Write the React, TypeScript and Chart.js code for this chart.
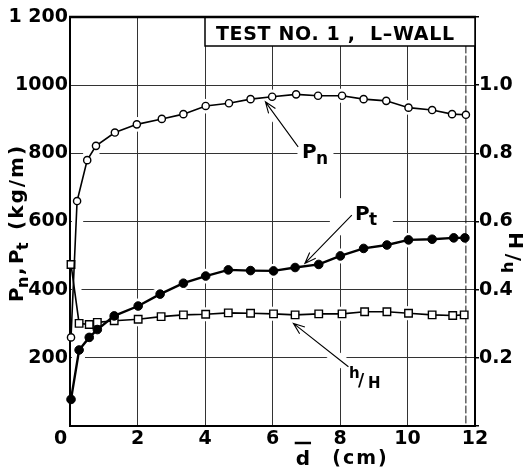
import React, { useEffect, useRef } from 'react';
import { Chart, registerables } from 'chart.js';
Chart.register(...registerables);

// ---- data ----
const dPn = [0.03, 0.21, 0.51, 0.77, 1.33, 1.98, 2.72, 3.36, 4.02, 4.71, 5.35, 5.99, 6.7, 7.35, 8.06, 8.7, 9.37, 10.03, 10.73, 11.32, 11.73];
const Pn = [260, 660, 780, 822, 861, 885, 901, 915, 939, 947, 959, 966, 973, 969, 969, 959, 954, 934, 927, 915, 913];

const dPt = [0.03, 0.27, 0.57, 0.81, 1.31, 2.02, 2.67, 3.36, 4.02, 4.69, 5.35, 6.03, 6.67, 7.37, 8.01, 8.7, 9.39, 10.03, 10.73, 11.37, 11.7];
const Pt = [78, 223, 260, 283, 323, 352, 387, 419, 440, 458, 456, 455, 465, 474, 499, 521, 531, 546, 548, 552, 552];

const dHH = [0.03, 0.27, 0.57, 0.81, 1.31, 2.02, 2.7, 3.36, 4.02, 4.69, 5.35, 6.03, 6.67, 7.37, 8.06, 8.73, 9.39, 10.03, 10.73, 11.34, 11.68];
const HH = [0.474, 0.301, 0.298, 0.304, 0.309, 0.313, 0.321, 0.326, 0.328, 0.332, 0.331, 0.329, 0.326, 0.329, 0.329, 0.335, 0.335, 0.331, 0.326, 0.324, 0.326];

const xRange = [0, 12];
const xStep = 2;
const yLeftRange = [0, 1200];
const yLeftStep = 200;
const yRightRange = [0, 1.2];
const yRightStep = 0.2;
const titleText = 'TEST NO. 1 ,  L–WALL';
const lastRunD = 11.73;

const FAM = "'DejaVu Sans', 'Liberation Sans', sans-serif";
const font = (size: number) => `bold ${size}px ${FAM}`;

function txt(ctx: CanvasRenderingContext2D, s: string, x: number, y: number, size: number, spacing = 0) {
  ctx.font = font(size);
  (ctx as any).letterSpacing = spacing + 'px';
  ctx.textAlign = 'left';
  ctx.textBaseline = 'alphabetic';
  ctx.fillStyle = '#000';
  ctx.fillText(s, x, y);
  (ctx as any).letterSpacing = '0px';
}

type Ann = { tip: [number, number]; tail: [number, number] };
const arrows: Ann[] = [
  { tip: [5.79, 951], tail: [6.76, 819] },
  { tip: [6.96, 477], tail: [8.35, 619] },
  { tip: [6.62, 301], tail: [8.25, 174] },
];

const decor = {
  id: 'decor',
  beforeDatasetsDraw(chart: any) {
    const { ctx, chartArea: a, scales } = chart;
    const X = (v: number) => scales.x.getPixelForValue(v);
    const Y = (v: number) => scales.y.getPixelForValue(v);
    ctx.save();
    ctx.beginPath();
    ctx.rect(a.left + 2, a.top + 2, a.right - a.left - 4, a.bottom - a.top - 4);
    ctx.clip();
    ctx.strokeStyle = '#fff';
    ctx.lineJoin = 'round';
    ctx.lineCap = 'round';
    ctx.lineWidth = 14;
    chart.data.datasets.forEach((_: any, i: number) => {
      const meta = chart.getDatasetMeta(i);
      ctx.beginPath();
      meta.data.forEach((p: any, j: number) => (j ? ctx.lineTo(p.x, p.y) : ctx.moveTo(p.x, p.y)));
      ctx.stroke();
    });
    ctx.lineWidth = 12;
    arrows.forEach((ar) => {
      ctx.beginPath();
      ctx.moveTo(X(ar.tip[0]), Y(ar.tip[1]));
      ctx.lineTo(X(ar.tail[0]), Y(ar.tail[1]));
      ctx.stroke();
    });
    // label backgrounds
    ctx.fillStyle = '#fff';
    const lx = (v: number) => X(v);
    ctx.fillRect(lx(6.74), Y(786) - 18, 36, 27);
    ctx.fillRect(lx(7.7), Y(604) - 22, 63, 30);
    ctx.fillRect(lx(8.1), Y(111) - 26, 42, 31);
    // dashed line at the last run
    ctx.strokeStyle = '#111';
    ctx.lineWidth = 1;
    ctx.setLineDash([7, 3]);
    ctx.beginPath();
    ctx.moveTo(X(lastRunD), a.top + 29);
    ctx.lineTo(X(lastRunD), a.bottom);
    ctx.stroke();
    ctx.setLineDash([]);
    ctx.restore();
  },
  afterDatasetsDraw(chart: any) {
    const { ctx, chartArea: a, scales } = chart;
    const X = (v: number) => scales.x.getPixelForValue(v);
    const Y = (v: number) => scales.y.getPixelForValue(v);
    ctx.save();
    // arrows
    ctx.strokeStyle = '#000';
    ctx.lineWidth = 1.1;
    arrows.forEach((ar) => {
      const tx = X(ar.tip[0]), ty = Y(ar.tip[1]);
      const sx = X(ar.tail[0]), sy = Y(ar.tail[1]);
      ctx.beginPath();
      ctx.moveTo(sx, sy);
      ctx.lineTo(tx, ty);
      const ang = Math.atan2(sy - ty, sx - tx);
      const L = 12, h = 0.36;
      ctx.moveTo(tx + L * Math.cos(ang + h), ty + L * Math.sin(ang + h));
      ctx.lineTo(tx, ty);
      ctx.lineTo(tx + L * Math.cos(ang - h), ty + L * Math.sin(ang - h));
      ctx.stroke();
    });
    // labels
    let bx = X(6.874), by = Y(786);
    txt(ctx, 'P', bx, by, 20);
    txt(ctx, 'n', bx + 14, by + 6, 17);
    bx = X(8.444); by = Y(604);
    txt(ctx, 'P', bx, by, 20);
    txt(ctx, 't', bx + 14, by + 5, 17);
    bx = X(8.267); by = Y(111.5);
    txt(ctx, 'h', bx, by - 10, 15);
    txt(ctx, '/', bx + 9, by - 2, 17);
    txt(ctx, 'H', bx + 19, by, 15);

    // title box
    const bl = X(4), br = a.right, bt = a.top, bb = a.top + 29;
    ctx.fillStyle = '#fff';
    ctx.fillRect(bl, bt, br - bl, bb - bt);
    ctx.strokeStyle = '#000';
    ctx.lineWidth = 1.5;
    ctx.strokeRect(bl, bt, br - bl, bb - bt);
    ctx.font = font(19);
    const w0 = ctx.measureText(titleText).width;
    const sp = (238 - w0) / (titleText.length - 1);
    txt(ctx, titleText, bl + 11, bt + 23, 19, sp);

    // top border
    ctx.lineWidth = 2.5;
    ctx.beginPath();
    ctx.moveTo(a.left - 1, a.top);
    ctx.lineTo(a.right + 1, a.top);
    ctx.stroke();

    // left title (rotated)
    ctx.save();
    ctx.translate(23, 302);
    ctx.rotate(-Math.PI / 2);
    txt(ctx, 'P', 0, 0, 20);
    txt(ctx, 'n', 14, 5, 16);
    txt(ctx, ',', 27, 0, 20);
    txt(ctx, 'P', 38, 0, 20);
    txt(ctx, 't', 52, 5, 16);
    txt(ctx, '(kg/m)', 72, 0, 20, 2);
    ctx.restore();

    // right title (rotated)
    ctx.save();
    ctx.translate(520, 273);
    ctx.rotate(-Math.PI / 2);
    txt(ctx, 'h', 0, -7, 16);
    txt(ctx, '/', 12, -1, 20);
    txt(ctx, 'H', 24, 3, 20);
    ctx.restore();

    // bottom title
    const dx = X(6.9);
    ctx.font = font(20);
    const dw = ctx.measureText('d').width;
    txt(ctx, 'd', dx - dw / 2, 465, 20);
    ctx.lineWidth = 2.5;
    ctx.beginPath();
    ctx.moveTo(dx - dw / 2 - 1, 443);
    ctx.lineTo(dx + dw / 2 + 1, 443);
    ctx.stroke();
    txt(ctx, '(cm)', X(7.77), 464, 19, 2);
    ctx.restore();
  },
};

export default function App() {
  const ref = useRef<HTMLCanvasElement>(null);
  useEffect(() => {
    const tickFont = { family: FAM, size: 19, weight: 'bold' as const };
    const chart = new Chart(ref.current!, {
      type: 'line',
      data: {
        datasets: [
          {
            label: 'Pn',
            data: dPn.map((x, i) => ({ x, y: Pn[i] })),
            yAxisID: 'y',
            borderColor: '#000',
            borderWidth: 1.6,
            pointStyle: 'circle',
            pointRadius: 3.6,
            pointBorderWidth: 1.4,
            pointBackgroundColor: '#fff',
            pointBorderColor: '#000',
            tension: 0,
            clip: false as any,
          },
          {
            label: 'Pt',
            data: dPt.map((x, i) => ({ x, y: Pt[i] })),
            yAxisID: 'y',
            borderColor: '#000',
            borderWidth: 2.4,
            pointStyle: 'circle',
            pointRadius: 4.3,
            pointBorderWidth: 1,
            pointBackgroundColor: '#000',
            pointBorderColor: '#000',
            tension: 0,
            clip: false as any,
          },
          {
            label: 'h/H',
            data: dHH.map((x, i) => ({ x, y: HH[i] })),
            yAxisID: 'y2',
            borderColor: '#000',
            borderWidth: 1.6,
            pointStyle: 'rect',
            pointRadius: 5.3,
            pointBorderWidth: 1.4,
            pointBackgroundColor: '#fff',
            pointBorderColor: '#000',
            tension: 0,
            clip: false as any,
          },
        ],
      },
      options: {
        responsive: false,
        animation: false,
        devicePixelRatio: 1,
        layout: { padding: { top: 17, left: 0, right: 0, bottom: 0 } },
        plugins: { legend: { display: false }, tooltip: { enabled: false } },
        scales: {
          x: {
            type: 'linear',
            min: xRange[0],
            max: xRange[1],
            afterFit: (s: any) => { s.height = 43; },
            ticks: {
              stepSize: xStep,
              font: tickFont,
              color: '#000',
              padding: 2,
              maxRotation: 0,
              autoSkip: false,
              callback: (v: any) => (v === 0 ? '0\u2003' : String(v)),
            },
            grid: { color: '#333', lineWidth: 1, drawTicks: false },
            border: { color: '#000', width: 2 },
          },
          y: {
            type: 'linear',
            position: 'left',
            min: yLeftRange[0],
            max: yLeftRange[1],
            afterFit: (s: any) => { s.width = 70; },
            ticks: {
              stepSize: yLeftStep,
              font: tickFont,
              color: '#000',
              padding: 2,
              callback: (v: any) => (v === 0 ? '' : v === 1200 ? '1 200' : String(v)),
            },
            grid: { color: '#333', lineWidth: 1, drawTicks: false },
            border: { color: '#000', width: 2 },
          },
          y2: {
            type: 'linear',
            position: 'right',
            min: yRightRange[0],
            max: yRightRange[1],
            afterFit: (s: any) => { s.width = 49; },
            ticks: {
              stepSize: yRightStep,
              font: tickFont,
              color: '#000',
              padding: 0,
              callback: (v: any) => (v > 0.01 && v < 1.1 ? Number(v).toFixed(1) : ''),
            },
            grid: { drawOnChartArea: false, drawTicks: true, tickLength: 4, color: '#000', lineWidth: 1.5 },
            border: { color: '#000', width: 2 },
          },
        },
      },
      plugins: [decor],
    } as any);
    return () => chart.destroy();
  }, []);
  return (
    <div style={{ position: 'absolute', left: 0, top: 0, width: 524, height: 469, background: '#fff' }}>
      <canvas ref={ref} width={524} height={469} style={{ display: 'block' }} />
    </div>
  );
}
